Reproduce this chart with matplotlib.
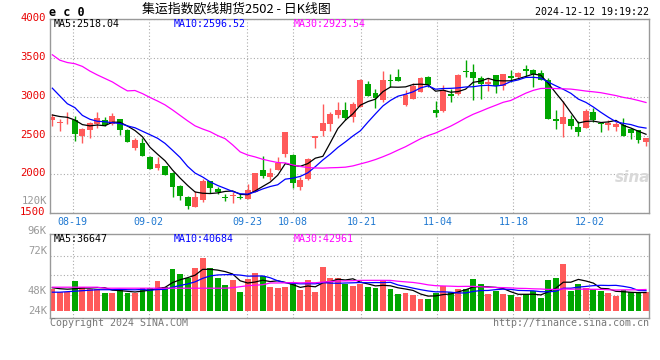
import numpy as np
import pandas as pd
import matplotlib
matplotlib.use("Agg")
import matplotlib.pyplot as plt
import matplotlib.transforms as mtransforms

plt.rcParams['font.family'] = ['DejaVu Sans Mono', 'Noto Sans CJK SC']

# daily K data, 80 sessions (08-14 .. 12-12)
open_ = [2697, 2658, 2683, 2697, 2496, 2573, 2650, 2705, 2654, 2709,
         2568, 2346, 2406, 2227, 2077, 2107, 2013, 1850, 1709, 1585,
         1671, 1915, 1812, 1705, 1727, 1709, 1688, 1778, 2056, 1970,
         2056, 2269, 2248, 1842, 1936, 2474, 2560, 2654, 2761, 2833,
         2740, 2868, 3158, 3051, 2962, 3210, 3248, 2889, 2970, 3060,
         3252, 2825, 2818, 3039, 3034, 3325, 3312, 3244, 3163, 3275,
         3140, 3261, 3252, 3363, 3338, 3308, 3218, 2709, 2650, 2709,
         2607, 2598, 2808, 2662, 2637, 2611, 2637, 2581, 2568, 2419]
high = [2774, 2714, 2803, 2748, 2603, 2680, 2803, 2744, 2786, 2718,
        2586, 2474, 2470, 2235, 2218, 2115, 2034, 1863, 1718, 1791,
        1940, 1919, 1842, 1748, 1778, 1748, 1876, 2021, 2235, 2077,
        2227, 2543, 2269, 1970, 2214, 2496, 2902, 2803, 2927, 2927,
        2927, 3231, 3201, 3103, 3325, 3295, 3359, 3090, 3175, 3252,
        3261, 2940, 3154, 3094, 3295, 3474, 3423, 3267, 3244, 3278,
        3295, 3350, 3312, 3406, 3359, 3350, 3239, 2825, 2940, 2761,
        2688, 2846, 2859, 2675, 2697, 2671, 2731, 2603, 2577, 2470]
low = [2624, 2560, 2654, 2432, 2402, 2466, 2603, 2620, 2641, 2509,
       2415, 2312, 2235, 2064, 2056, 1992, 1714, 1671, 1560, 1585,
       1640, 1765, 1748, 1658, 1637, 1680, 1688, 1778, 1949, 1927,
       2056, 2227, 1821, 1799, 1927, 2346, 2496, 2560, 2731, 2697,
       2675, 2868, 3004, 2855, 2932, 3124, 3197, 2880, 2970, 3056,
       3124, 2739, 2803, 2932, 3026, 3252, 2958, 2974, 3073, 3054,
       3090, 3188, 3235, 3273, 3124, 3218, 2714, 2590, 2483, 2590,
       2500, 2598, 2675, 2547, 2568, 2556, 2496, 2457, 2406, 2363]
close = [2739, 2675, 2690, 2517, 2585, 2658, 2731, 2641, 2748, 2577,
         2419, 2440, 2239, 2073, 2132, 1996, 1842, 1727, 1598, 1709,
         1915, 1821, 1770, 1692, 1740, 1697, 1799, 2013, 1979, 2021,
         2141, 2543, 1893, 1927, 2193, 2491, 2662, 2774, 2833, 2731,
         2902, 3218, 3004, 2987, 3218, 3197, 3205, 3026, 3141, 3239,
         3154, 2795, 3092, 3011, 3278, 3312, 3235, 3167, 3188, 3135,
         3295, 3239, 3303, 3329, 3295, 3218, 2714, 2688, 2735, 2624,
         2547, 2820, 2705, 2645, 2662, 2645, 2496, 2534, 2440, 2470]
# volume in thousands of lots
volume = [43, 38, 38, 60, 47, 43, 43, 36, 36, 43,
          36, 36, 45, 45, 60, 47, 84, 73, 66, 85,
          105, 85, 65, 51, 61, 37, 63, 75, 69, 47,
          45, 47, 53, 41, 61, 37, 87, 65, 65, 53,
          49, 53, 48, 45, 59, 44, 33, 36, 31, 23,
          23, 35, 49, 37, 44, 44, 63, 54, 33, 39,
          33, 31, 28, 33, 40, 26, 61, 65, 93, 40,
          54, 45, 44, 40, 36, 29, 41, 38, 37, 37]

# moving-average values before a full window exists
ma5_head = [2765, 2745, 2735, 2700]
ma10_head = [3110, 3010, 2910, 2860, 2760, 2710, 2684, 2678, 2665]
ma30_head = [3540, 3470, 3440, 3425, 3390, 3330, 3280, 3235, 3190, 3130,
             3075, 3080, 3040, 2990, 2945, 2895, 2830, 2760, 2690, 2625,
             2585, 2550, 2500, 2460, 2380, 2290, 2250, 2225, 2195]
vma5_head = [46, 44, 43, 44]
vma10_head = [37, 37, 38, 39, 40, 41, 42, 42, 42]
vma30_head = [47, 47, 47, 47, 47, 47, 47, 45, 45, 45,
              45, 45, 45, 45, 45, 45, 45, 45, 45, 45,
              45, 45, 45, 45, 46, 48, 50, 51, 52]

tick_idx = [3, 13, 26, 32, 41, 51, 61, 71]
tick_labels = ["08-19", "09-02", "09-23", "10-08", "10-21", "11-04", "11-18", "12-02"]
price_ticks = [1500, 2000, 2500, 3000, 3500, 4000]
price_legend = ["MA5:2518.04", "MA10:2596.52", "MA30:2923.54"]
vol_legend = ["MA5:36647", "MA10:40684", "MA30:42961"]


def with_head(values, n, head):
    m = pd.Series(values, dtype=float).rolling(n).mean().to_numpy()
    m[:n - 1] = head
    return m


o = np.array(open_, float)
c = np.array(close, float)
h = np.array(high, float)
l = np.array(low, float)
v = np.array(volume, float)
x = np.arange(len(c))

RED = '#ff5a5a'
GREEN = '#00a600'
up = c >= o
colors = np.where(up, RED, GREEN)
ma_colors = ['black', '#0000ff', '#ff00ff']

W, H = 660, 360
fig = plt.figure(figsize=(W / 100, H / 100), dpi=100)


def box(x0, y0, x1, y1):
    return [x0 / W, 1 - y1 / H, (x1 - x0) / W, (y1 - y0) / H]


ax = fig.add_axes(box(50.5, 19, 649, 213.3))
axv = fig.add_axes(box(50.5, 234, 649, 317.7))

grid_x = [1.011 * i - 0.323 for i in tick_idx]
dots = (0, (1, 2))

for a in (ax, axv):
    a.set_xlim(-0.24, 79.4)
    for s in a.spines.values():
        s.set_color('#999999')
        s.set_linewidth(1)
    a.set_xticks(grid_x)
    a.grid(axis='x', color='#aaaaaa', linestyle=dots, linewidth=0.8)
    a.set_axisbelow(True)

# price panel
ax.set_ylim(1500, 4000)
ax.set_yticks(price_ticks)
ax.set_yticklabels([str(p) for p in price_ticks])
ax.grid(axis='y', color='#aaaaaa', linestyle=dots, linewidth=0.8)
ax.tick_params(axis='y', length=0, pad=3.5, labelcolor='#e80000', labelsize=7.6)
ax.tick_params(axis='x', length=0, pad=3, labelcolor='#1f78d1', labelsize=7.2)
ax.set_xticklabels(tick_labels)
off = mtransforms.ScaledTranslation(0, 2 / 100, fig.dpi_scale_trans)
for lab in ax.get_yticklabels():
    lab.set_transform(lab.get_transform() + off)

ax.vlines(x, l, h, colors=colors, linewidth=1)
body = np.maximum(np.abs(c - o), 10)
ax.bar(x, body, bottom=np.minimum(o, c), width=0.78, color=colors, linewidth=0)

for n, head, col in zip((5, 10, 30), (ma5_head, ma10_head, ma30_head), ma_colors):
    ax.plot(x, with_head(c, n, head), color=col, lw=0.9)

# volume panel
axv.set_ylim(-14, 153.4)
axv.set_yticks([])
axv.tick_params(axis='x', length=0, labelbottom=False)
for f in (0.271, 0.507, 0.737):
    axv.plot([0, 1], [f, f], transform=axv.transAxes, color='#aaaaaa',
             linestyle=dots, linewidth=0.8, zorder=0)
axv.bar(x, v, width=0.78, color=colors, linewidth=0)
for n, head, col in zip((5, 10, 30), (vma5_head, vma10_head, vma30_head), ma_colors):
    axv.plot(x, with_head(v, n, head), color=col, lw=0.9)


def ftext(px, py, s, **kw):
    fig.text(px / W, 1 - py / H, s, **kw)


# volume scale labels
for lab, py in [("120K", 200.7), ("96K", 230.7), ("72K", 251), ("48K", 291), ("24K", 310.7)]:
    ftext(47, py, lab, ha='right', va='center', color='#999999', fontsize=7.6)

# header
ftext(49, 12.3, "e c 0", ha='left', va='center', fontsize=8.5, fontweight='bold')
ftext(141.5, 9, "集运指数欧线期货2502 - 日K线图", ha='left', va='center', fontsize=9.3,
      family=['Noto Sans CJK SC', 'DejaVu Sans'])
ftext(649, 12.3, "2024-12-12 19:19:22", ha='right', va='center', fontsize=7.2)

# MA legends
for px, s, col in zip((54, 174, 294), price_legend, ma_colors):
    ftext(px, 24, s, ha='left', va='center', fontsize=7.2, color=col)
for px, s, col in zip((54, 174, 294), vol_legend, ma_colors):
    ftext(px, 238.5, s, ha='left', va='center', fontsize=7.2, color=col)

# footer
ftext(50, 323.5, "Copyright 2024 SINA.COM", ha='left', va='center', fontsize=7.2, color='#777777')
ftext(649, 323.5, "http://finance.sina.com.cn", ha='right', va='center', fontsize=7.2, color='#777777')

# watermark
ftext(633, 177, "sina", ha='center', va='center', fontsize=11, fontweight='bold',
      style='italic', color='#d9d9d9', family='DejaVu Sans')

fig.savefig('out.png', dpi=100, facecolor='white')
